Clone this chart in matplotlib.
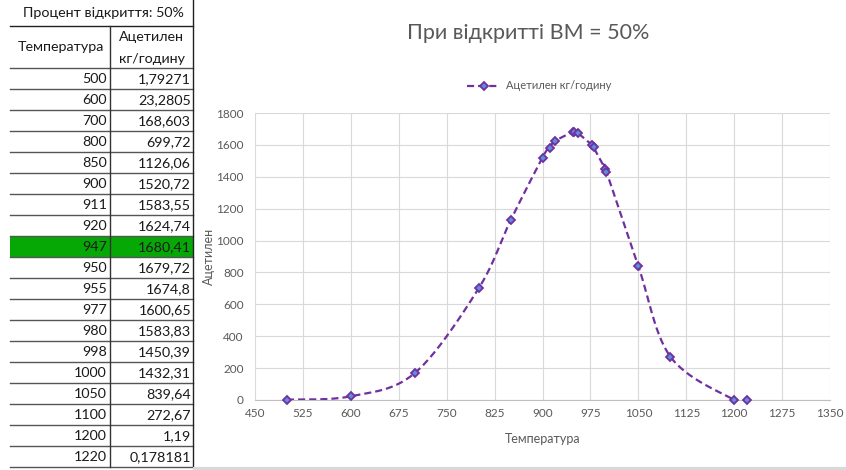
import numpy as np
import matplotlib
matplotlib.use("Agg")
import matplotlib.pyplot as plt
from matplotlib.lines import Line2D
from matplotlib.patches import Rectangle

plt.rcParams['font.family'] = ['Lato', 'DejaVu Sans']

# Data
temperature = [500, 600, 700, 800, 850, 900, 911, 920, 947, 950, 955, 977, 980, 998, 1000, 1050, 1100, 1200, 1220]
acetylene = [1.79271, 23.2805, 168.603, 699.72, 1126.06, 1520.72, 1583.55, 1624.74, 1680.41, 1679.72,
             1674.8, 1600.65, 1583.83, 1450.39, 1432.31, 839.64, 272.67, 1.19, 0.178181]
highlight_temp = 947
table_title = "Процент відкриття: 50%"
col_headers = ["Температура", "Ацетилен\nкг/годину"]
chart_title = "При відкритті ВМ = 50%"
series_name = "Ацетилен кг/годину"
x_label = "Температура"
y_label = "Ацетилен"
x_ticks = [450, 525, 600, 675, 750, 825, 900, 975, 1050, 1125, 1200, 1275, 1350]
y_ticks = [0, 200, 400, 600, 800, 1000, 1200, 1400, 1600, 1800]

W, H = 846, 470
fig = plt.figure(figsize=(W / 100, H / 100), dpi=100)
fig.patch.set_facecolor("white")

# ---- spreadsheet table (pixel coordinates) ----
tab = fig.add_axes([0, 0, 1, 1])
tab.set_xlim(0, W)
tab.set_ylim(H, 0)
tab.axis("off")
tab.set_zorder(0)

text_c = "#1a1a1a"
tfs = 10.3
row_top0 = 68
row_h = 21
x_left, x_mid, x_right = 10, 110, 193

tab.text((x_left + x_right) / 2 + 2, 13, table_title, ha="center", va="center", fontsize=tfs, color=text_c)
tab.plot([x_left, x_right], [26, 26], color="#222222", lw=1.0)
tab.text((x_left + x_mid) / 2 + 1, 47, col_headers[0], ha="center", va="center", fontsize=tfs, color=text_c)
h2 = col_headers[1].split("\n")
tab.text((x_mid + x_right) / 2, 37, h2[0], ha="center", va="center", fontsize=tfs, color=text_c)
tab.text((x_mid + x_right) / 2, 59, h2[1], ha="center", va="center", fontsize=tfs, color=text_c)

for i, (t, v) in enumerate(zip(temperature, acetylene)):
    top = row_top0 + i * row_h
    if t == highlight_temp:
        tab.add_patch(Rectangle((x_left, top), x_right - x_left, row_h, facecolor="#06a806",
                                edgecolor="none", zorder=0))
    tab.plot([x_left, x_right], [top, top], color="#555555", lw=1.0, zorder=1)
    yc = top + row_h / 2 + 0.5
    tab.text(x_mid - 3, yc, str(t), ha="right", va="center", fontsize=tfs, color=text_c)
    tab.text(x_right - 2, yc, ("%.6g" % v).replace(".", ","), ha="right", va="center",
             fontsize=tfs, color=text_c)
bottom = row_top0 + len(temperature) * row_h
tab.plot([x_left, x_right], [bottom, bottom], color="#555555", lw=1.0)
tab.plot([x_mid, x_mid], [26, bottom], color="#333333", lw=1.0)
tab.plot([x_right, x_right], [0, bottom], color="#222222", lw=1.0)
tab.plot([195, W], [468.5, 468.5], color="#d9d9d9", lw=3)

# ---- chart ----
px0, px1, py0, py1 = 255, 830, 113, 400
ax = fig.add_axes([px0 / W, 1 - py1 / H, (px1 - px0) / W, (py1 - py0) / H])
ax.set_zorder(2)
ax.set_xlim(450, 1350)
ax.set_ylim(0, 1800)
ax.set_xticks(x_ticks)
ax.set_yticks(y_ticks)
ax.grid(True, color="#d9d9d9", lw=0.8)
ax.set_axisbelow(True)
for s in ("top", "right", "left"):
    ax.spines[s].set_visible(False)
ax.spines["bottom"].set_color("#bfbfbf")
ax.spines["bottom"].set_linewidth(0.8)
ax.tick_params(length=0, labelsize=8.5, labelcolor="#595959", pad=6)
ax.tick_params(axis="y", pad=8)


def smooth_curve(xs, ys, n=30):
    """Bezier smoothing through the points, computed in screen-proportional space."""
    sx = (px1 - px0) / 900.0
    sy = (py1 - py0) / 1800.0
    P = np.column_stack([np.asarray(xs, float) * sx, np.asarray(ys, float) * sy])
    out = []
    for i in range(len(P) - 1):
        p0 = P[i - 1] if i > 0 else P[i]
        p1, p2 = P[i], P[i + 1]
        p3 = P[i + 2] if i + 2 < len(P) else P[i + 1]
        c1 = p1 + (p2 - p0) / 6.0
        c2 = p2 - (p3 - p1) / 6.0
        t = np.linspace(0, 1, n)[:, None]
        seg = ((1 - t) ** 3) * p1 + 3 * ((1 - t) ** 2) * t * c1 + 3 * (1 - t) * t ** 2 * c2 + t ** 3 * p2
        out.append(seg if i == 0 else seg[1:])
    out = np.vstack(out)
    return out[:, 0] / sx, out[:, 1] / sy


purple = "#7030a0"
mfill = "#5b8fd6"
sx_, sy_ = smooth_curve(temperature, acetylene)
ax.plot(sx_, sy_, color=purple, lw=1.6, ls=(0, (3.2, 1.8)), zorder=3)
ax.plot(temperature, acetylene, ls="none", marker="D", ms=4.3, mfc=mfill, mec=purple, mew=1.3,
        zorder=4, clip_on=False)

ax.set_xlabel(x_label, fontsize=9, color="#595959", labelpad=10)
ax.set_ylabel(y_label, fontsize=9, color="#595959", labelpad=1)

fig.text(528 / W, 1 - 33 / H, chart_title, ha="center", va="center", fontsize=15.5, color="#595959")

handle = Line2D([], [], color=purple, lw=1.6, ls=(0, (3.2, 1.8)), marker="D", ms=4.3,
                mfc=mfill, mec=purple, mew=1.3)
fig.legend([handle], [series_name], loc="center", bbox_to_anchor=(539 / W, 1 - 86 / H),
           frameon=False, fontsize=8, labelcolor="#595959", handlelength=3.0, handletextpad=0.5)

fig.savefig("out.png", dpi=100, facecolor="white")
